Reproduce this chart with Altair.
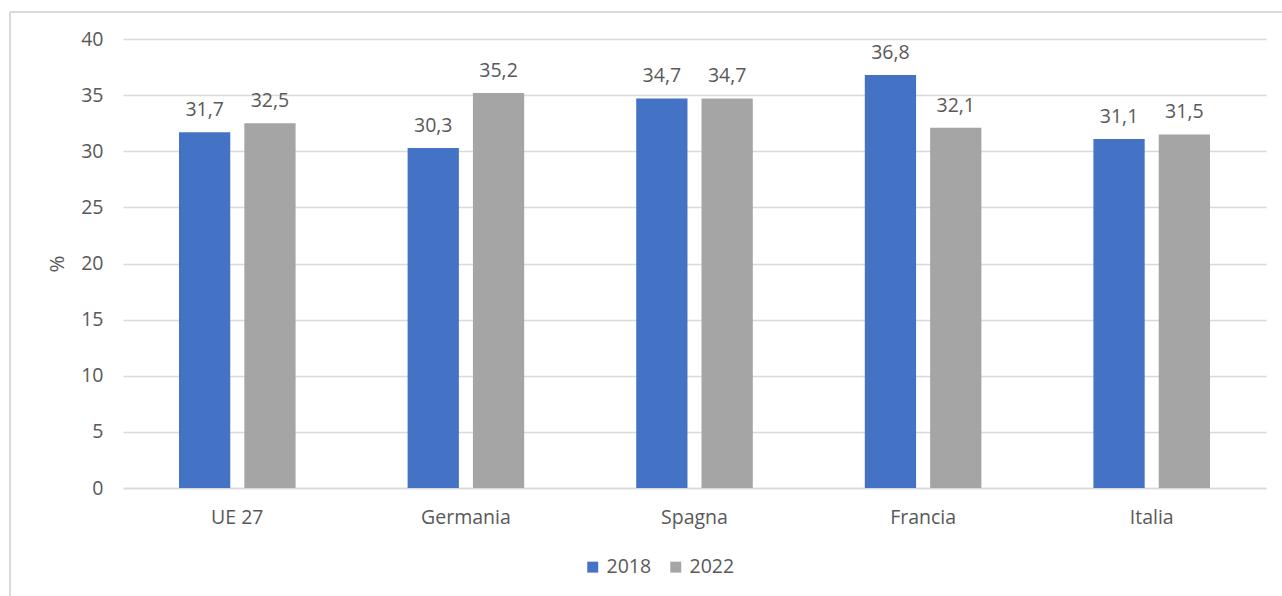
import altair as alt
import pandas as pd

countries = ["UE 27", "Germania", "Spagna", "Francia", "Italia"]
values_2018 = [31.7, 30.3, 34.7, 36.8, 31.1]
values_2022 = [32.5, 35.2, 34.7, 32.1, 31.5]
years = ["2018", "2022"]

rows = []
for c, a, b in zip(countries, values_2018, values_2022):
    rows.append({"Paese": c, "Anno": "2018", "Valore": a, "Etichetta": f"{a:.1f}".replace(".", ",")})
    rows.append({"Paese": c, "Anno": "2022", "Valore": b, "Etichetta": f"{b:.1f}".replace(".", ",")})
df = pd.DataFrame(rows)

FONT = "Open Sans"
TXT = "#595959"
GRID = "#D9D9D9"
FS = 19.5

x_axis = alt.Axis(title=None, labelAngle=0, labelFontSize=FS, labelColor=TXT,
                  labelFont=FONT, labelPadding=20, ticks=False,
                  domainColor=GRID, domainWidth=1.5)
y_axis = alt.Axis(title="%", values=list(range(0, 41, 5)),
                  labelFontSize=FS, labelColor=TXT, labelFont=FONT, labelPadding=20,
                  titleFontSize=FS + 1, titleColor=TXT, titleFont=FONT, titleFontWeight="normal",
                  titlePadding=13, ticks=False, domain=False,
                  gridColor=GRID, gridWidth=1.5)
x_scale = alt.Scale(paddingInner=0.49, paddingOuter=0.245)
y_scale = alt.Scale(domain=[0, 40])
xoff = alt.XOffset("Anno:N", sort=years, scale=alt.Scale(paddingInner=0.215, paddingOuter=0))

bars = alt.Chart(df).mark_bar().encode(
    x=alt.X("Paese:N", sort=countries, scale=x_scale, axis=x_axis),
    xOffset=xoff,
    y=alt.Y("Valore:Q", scale=y_scale, axis=y_axis),
    color=alt.Color("Anno:N", sort=years,
                    scale=alt.Scale(domain=years, range=["#4472C4", "#A5A5A5"]),
                    legend=alt.Legend(title=None, orient="none", direction="horizontal",
                                      legendX=460, legendY=518, symbolType="square",
                                      symbolSize=120, symbolStrokeWidth=0,
                                      labelFontSize=FS, labelColor=TXT, labelFont=FONT,
                                      columnPadding=14, symbolOffset=0)),
)

labels = alt.Chart(df).mark_text(baseline="bottom", dy=-12, fontSize=FS, color=TXT, font=FONT).encode(
    x=alt.X("Paese:N", sort=countries, scale=x_scale, axis=x_axis),
    xOffset=xoff,
    y=alt.Y("Valore:Q", scale=y_scale, axis=y_axis),
    text="Etichetta:N",
)

border_left = alt.Chart(df).mark_rule(color=GRID, strokeWidth=2).encode(
    x=alt.value(-113), y=alt.value(-27), y2=alt.value(600))
border_top = alt.Chart(df).mark_rule(color=GRID, strokeWidth=2).encode(
    x=alt.value(-113), x2=alt.value(1300), y=alt.value(-27))

chart = alt.layer(border_left, border_top, bars, labels).properties(
    width=1143, height=449,
    background="white",
    autosize=alt.AutoSizeParams(type="none"),
    padding={"left": 123, "top": 39, "right": 16, "bottom": 108},
).configure_view(stroke=None)

chart.save("out.html", embed_options={"renderer": "svg", "actions": False})
